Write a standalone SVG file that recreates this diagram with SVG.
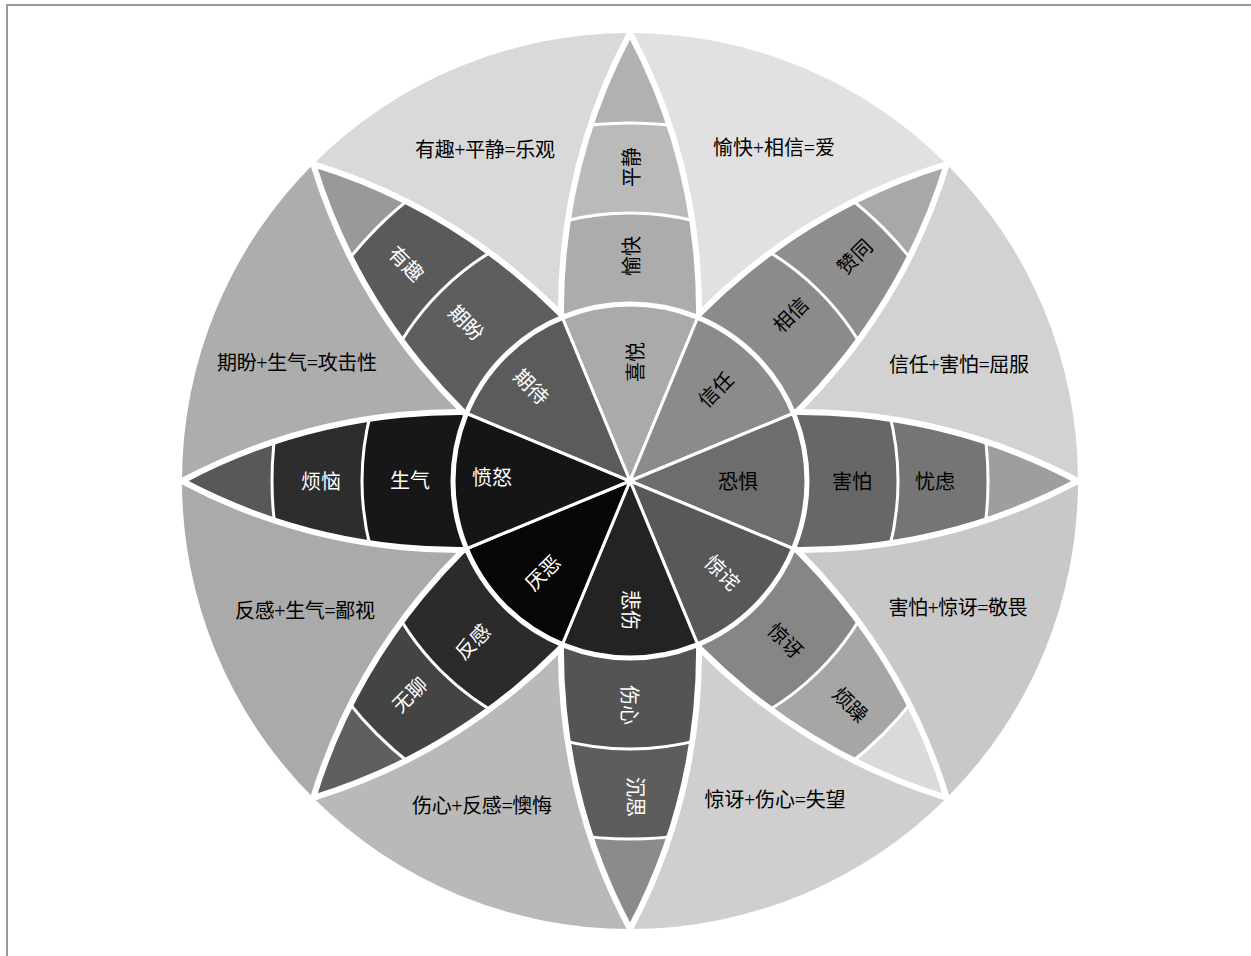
<svg xmlns="http://www.w3.org/2000/svg" width="1251" height="956" viewBox="0 0 1251 956">
<defs>
<style>
.lbl{font-family:"Liberation Serif","Noto Sans CJK SC",serif;font-size:20px;text-anchor:middle;dominant-baseline:central}
.b{fill:#000}
.w{fill:#fff}
.band{stroke:#fff;stroke-width:3}
.outline{fill:none;stroke:#fff;stroke-width:6}
.sec{stroke:#fff;stroke-width:3;stroke-linejoin:round}
</style>
<clipPath id="pc" clipPathUnits="userSpaceOnUse">
<path d="M1078,481 A588.7,588.7 0 0,0 630,437.5 L630,524.5 A588.7,588.7 0 0,0 1078,481 Z"/>
</clipPath>
<path id="vesica" d="M1078,481 A588.7,588.7 0 0,0 630,437.5 L630,524.5 A588.7,588.7 0 0,0 1078,481 Z"/>
</defs>
<rect width="1251" height="956" fill="#fff"/>
<path d="M7,956 V5 H1251" fill="none" stroke="#9a9a9a" stroke-width="2"/>

<g id="outer-regions">
<path d="M630,481 L630,33 A448,448 0 0,1 946.8,164.2 Z" fill="#e1e1e1"/>
<path d="M630,481 L946.8,164.2 A448,448 0 0,1 1078,481 Z" fill="#d2d2d2"/>
<path d="M630,481 L1078,481 A448,448 0 0,1 946.8,797.8 Z" fill="#c8c8c8"/>
<path d="M630,481 L946.8,797.8 A448,448 0 0,1 630,929 Z" fill="#cfcfcf"/>
<path d="M630,481 L630,929 A448,448 0 0,1 313.2,797.8 Z" fill="#b9b9b9"/>
<path d="M630,481 L313.2,797.8 A448,448 0 0,1 182,481 Z" fill="#aaaaaa"/>
<path d="M630,481 L182,481 A448,448 0 0,1 313.2,164.2 Z" fill="#adadad"/>
<path d="M630,481 L313.2,164.2 A448,448 0 0,1 630,33 Z" fill="#d9d9d9"/>
</g>

<g id="petal-joy" transform="rotate(-90 630 481)">
<g clip-path="url(#pc)">
<circle cx="630" cy="481" r="448" fill="#b1b1b1"/>
<circle cx="630" cy="481" r="358" fill="#bababa" class="band"/>
<circle cx="630" cy="481" r="268" fill="#acacac" class="band"/>
</g>
<use href="#vesica" class="outline"/>
</g>
<g id="petal-trust" transform="rotate(-45 630 481)">
<g clip-path="url(#pc)">
<circle cx="630" cy="481" r="448" fill="#a8a8a8"/>
<circle cx="630" cy="481" r="358" fill="#8e8e8e" class="band"/>
<circle cx="630" cy="481" r="268" fill="#8b8b8b" class="band"/>
</g>
<use href="#vesica" class="outline"/>
</g>
<g id="petal-fear">
<g clip-path="url(#pc)">
<circle cx="630" cy="481" r="448" fill="#9e9e9e"/>
<circle cx="630" cy="481" r="358" fill="#757575" class="band"/>
<circle cx="630" cy="481" r="268" fill="#676767" class="band"/>
</g>
<use href="#vesica" class="outline"/>
</g>
<g id="petal-surprise" transform="rotate(45 630 481)">
<g clip-path="url(#pc)">
<circle cx="630" cy="481" r="448" fill="#dadada"/>
<circle cx="630" cy="481" r="358" fill="#a6a6a6" class="band"/>
<circle cx="630" cy="481" r="268" fill="#868686" class="band"/>
</g>
<use href="#vesica" class="outline"/>
</g>
<g id="petal-sadness" transform="rotate(90 630 481)">
<g clip-path="url(#pc)">
<circle cx="630" cy="481" r="448" fill="#8b8b8b"/>
<circle cx="630" cy="481" r="358" fill="#5d5d5d" class="band"/>
<circle cx="630" cy="481" r="268" fill="#545454" class="band"/>
</g>
<use href="#vesica" class="outline"/>
</g>
<g id="petal-disgust" transform="rotate(135 630 481)">
<g clip-path="url(#pc)">
<circle cx="630" cy="481" r="448" fill="#5f5f5f"/>
<circle cx="630" cy="481" r="358" fill="#444444" class="band"/>
<circle cx="630" cy="481" r="268" fill="#2b2b2b" class="band"/>
</g>
<use href="#vesica" class="outline"/>
</g>
<g id="petal-anger" transform="rotate(180 630 481)">
<g clip-path="url(#pc)">
<circle cx="630" cy="481" r="448" fill="#585858"/>
<circle cx="630" cy="481" r="358" fill="#2d2d2d" class="band"/>
<circle cx="630" cy="481" r="268" fill="#171717" class="band"/>
</g>
<use href="#vesica" class="outline"/>
</g>
<g id="petal-anticipation" transform="rotate(225 630 481)">
<g clip-path="url(#pc)">
<circle cx="630" cy="481" r="448" fill="#999999"/>
<circle cx="630" cy="481" r="358" fill="#5a5a5a" class="band"/>
<circle cx="630" cy="481" r="268" fill="#5e5e5e" class="band"/>
</g>
<use href="#vesica" class="outline"/>
</g>

<g id="inner-circle">
<path class="sec" fill="#aaaaaa" d="M630,481 L562.26,317.47 A177,177 0 0,1 697.74,317.47 Z"/>
<path class="sec" fill="#8b8b8b" d="M630,481 L697.74,317.47 A177,177 0 0,1 793.53,413.26 Z"/>
<path class="sec" fill="#6d6d6d" d="M630,481 L793.53,413.26 A177,177 0 0,1 793.53,548.74 Z"/>
<path class="sec" fill="#585858" d="M630,481 L793.53,548.74 A177,177 0 0,1 697.74,644.53 Z"/>
<path class="sec" fill="#232323" d="M630,481 L697.74,644.53 A177,177 0 0,1 562.26,644.53 Z"/>
<path class="sec" fill="#060606" d="M630,481 L562.26,644.53 A177,177 0 0,1 466.47,548.74 Z"/>
<path class="sec" fill="#151515" d="M630,481 L466.47,548.74 A177,177 0 0,1 466.47,413.26 Z"/>
<path class="sec" fill="#5b5b5b" d="M630,481 L466.47,413.26 A177,177 0 0,1 562.26,317.47 Z"/>
<circle cx="630" cy="481" r="177" fill="none" stroke="#fff" stroke-width="5"/>
</g>

<g id="labels-inner">
<text class="lbl b" x="636" y="362" transform="rotate(-90 636 362)">喜悦</text>
<text class="lbl b" x="716" y="390" transform="rotate(-45 716 390)">信任</text>
<text class="lbl b" x="738" y="482">恐惧</text>
<text class="lbl w" x="722" y="573" transform="rotate(45 722 573)">惊诧</text>
<text class="lbl w" x="630" y="610" transform="rotate(90 630 610)">悲伤</text>
<text class="lbl w" x="543" y="573" transform="rotate(-45 543 573)">厌恶</text>
<text class="lbl w" x="492" y="478">愤怒</text>
<text class="lbl w" x="531" y="387" transform="rotate(45 531 387)">期待</text>
</g>

<g id="labels-petals">
<text class="lbl b" x="632" y="256" transform="rotate(-90 632 256)">愉快</text>
<text class="lbl b" x="632" y="167" transform="rotate(-90 632 167)">平静</text>
<text class="lbl b" x="791" y="315" transform="rotate(-45 791 315)">相信</text>
<text class="lbl b" x="855" y="257" transform="rotate(-45 855 257)">赞同</text>
<text class="lbl b" x="852" y="482">害怕</text>
<text class="lbl b" x="935" y="482">忧虑</text>
<text class="lbl b" x="785" y="641" transform="rotate(45 785 641)">惊讶</text>
<text class="lbl b" x="850" y="705" transform="rotate(45 850 705)">烦躁</text>
<text class="lbl w" x="629" y="705" transform="rotate(90 629 705)">伤心</text>
<text class="lbl w" x="635" y="797" transform="rotate(90 635 797)">沉思</text>
<text class="lbl w" x="473" y="642" transform="rotate(-45 473 642)">反感</text>
<text class="lbl w" x="410" y="695" transform="rotate(-45 410 695)">无聊</text>
<text class="lbl w" x="321" y="482">烦恼</text>
<text class="lbl w" x="410" y="481">生气</text>
<text class="lbl w" x="466" y="323" transform="rotate(45 466 323)">期盼</text>
<text class="lbl w" x="406" y="264" transform="rotate(45 406 264)">有趣</text>
</g>

<g id="labels-combos">
<text class="lbl b" x="485" y="150" textLength="140" lengthAdjust="spacing">有趣+平静=乐观</text>
<text class="lbl b" x="774" y="148" textLength="122" lengthAdjust="spacing">愉快+相信=爱</text>
<text class="lbl b" x="297" y="363" textLength="160" lengthAdjust="spacing">期盼+生气=攻击性</text>
<text class="lbl b" x="959" y="365" textLength="140" lengthAdjust="spacing">信任+害怕=屈服</text>
<text class="lbl b" x="305" y="611" textLength="140" lengthAdjust="spacing">反感+生气=鄙视</text>
<text class="lbl b" x="958" y="608" textLength="139" lengthAdjust="spacing">害怕+惊讶=敬畏</text>
<text class="lbl b" x="482" y="806" textLength="140" lengthAdjust="spacing">伤心+反感=懊悔</text>
<text class="lbl b" x="775" y="800" textLength="141" lengthAdjust="spacing">惊讶+伤心=失望</text>
</g>
</svg>
